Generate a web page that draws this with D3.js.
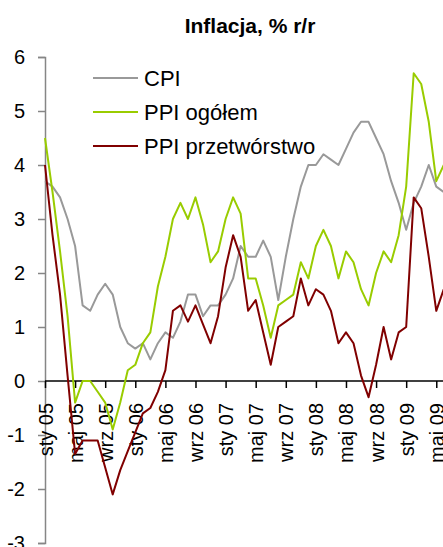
<!DOCTYPE html>
<html>
<head>
<meta charset="utf-8">
<script src="https://cdn.jsdelivr.net/npm/d3@7"></script>
<style>
  body { margin: 0; background: #fff; }
  text { font-family: Arial, "Liberation Sans", sans-serif; fill: #000; }
</style>
</head>
<body>
<svg id="chart"></svg>
<script>
// monthly data, sty 05 .. cze 09
var cpi = [
  3.7, 3.6, 3.4, 3.0, 2.5, 1.4, 1.3, 1.6, 1.8, 1.6, 1.0, 0.7,
  0.6, 0.7, 0.4, 0.7, 0.9, 0.8, 1.1, 1.6, 1.6, 1.2, 1.4, 1.4,
  1.6, 1.9, 2.5, 2.3, 2.3, 2.6, 2.3, 1.5, 2.3, 3.0, 3.6, 4.0,
  4.0, 4.2, 4.1, 4.0, 4.3, 4.6, 4.8, 4.8, 4.5, 4.2, 3.7, 3.3,
  2.8, 3.3, 3.6, 4.0, 3.6, 3.5
];
var ppiTotal = [
  4.5, 3.5, 2.4, 1.2, -0.4, 0.0, 0.0, -0.2, -0.4, -0.9, -0.4, 0.2,
  0.3, 0.7, 0.9, 1.75, 2.3, 3.0, 3.3, 3.0, 3.4, 2.9, 2.2, 2.4,
  3.0, 3.4, 3.1, 1.9, 1.9, 1.4, 0.8, 1.4, 1.5, 1.6, 2.2, 1.9,
  2.5, 2.8, 2.5, 1.9, 2.4, 2.2, 1.7, 1.4, 2.0, 2.4, 2.2, 2.7,
  3.6, 5.7, 5.5, 4.8, 3.7, 4.0
];
var ppiManuf = [
  4.0, 2.7, 1.6, 0.1, -1.35, -1.1, -1.1, -1.1, -1.6, -2.1, -1.65, -1.3,
  -0.95, -0.6, -0.5, -0.2, 0.2, 1.3, 1.4, 1.1, 1.4, 1.05, 0.7, 1.2,
  2.1, 2.7, 2.3, 1.3, 1.5, 0.9, 0.3, 1.0, 1.1, 1.2, 1.9, 1.4,
  1.7, 1.6, 1.3, 0.7, 0.9, 0.7, 0.1, -0.3, 0.3, 1.0, 0.4, 0.9,
  1.0, 3.4, 3.2, 2.3, 1.3, 1.7
];
var monthNames = ["sty", "lut", "mar", "kwi", "maj", "cze", "lip", "sie", "wrz", "paź", "lis", "gru"];
var months = d3.range(cpi.length).map(function (i) {
  return monthNames[i % 12] + " 0" + (5 + Math.floor(i / 12));
});
var yTicks = [-3, -2, -1, 0, 1, 2, 3, 4, 5, 6];
var seriesNames = ["CPI", "PPI ogółem", "PPI przetwórstwo"];
var seriesColors = ["#999999", "#99cc00", "#800000"];
var series = [cpi, ppiTotal, ppiManuf];

var width = 443, height = 547;
var svg = d3.select("#chart")
  .attr("width", width)
  .attr("height", height);

var x = d3.scaleLinear().domain([0, 53]).range([45, 443.8]);
var y = d3.scaleLinear().domain([-3, 6]).range([543, 57]);

// title
svg.append("text")
  .attr("x", 250)
  .attr("y", 33)
  .attr("text-anchor", "middle")
  .style("font-size", "21px")
  .style("font-weight", "bold")
  .text("Inflacja, % r/r");

// y axis (plain hyphen like the original)
var yAxis = svg.append("g")
  .attr("transform", "translate(45,0)")
  .call(d3.axisLeft(y).tickValues(yTicks).tickSize(7).tickPadding(13)
    .tickFormat(function (d) { return String(d); }));
yAxis.select(".domain").attr("stroke", "#868686").attr("stroke-width", 1.5);
yAxis.selectAll(".tick line").attr("stroke", "#868686").attr("stroke-width", 1.5);
yAxis.selectAll(".tick text")
  .style("font-size", "20px")
  .style("font-family", "Arial, 'Liberation Sans', sans-serif");

// x axis at zero
var tickIdx = d3.range(0, cpi.length, 4);
var xAxis = svg.append("g")
  .attr("transform", "translate(0," + y(0) + ")")
  .call(d3.axisBottom(x).tickValues(tickIdx).tickSize(7).tickSizeOuter(0)
    .tickFormat(function (i) { return months[i]; }));
xAxis.select(".domain").attr("stroke", "#000").attr("stroke-width", 1.5)
  .attr("d", "M45,0H443");
xAxis.selectAll(".tick line").attr("stroke", "#000").attr("stroke-width", 1.5);
xAxis.selectAll(".tick text")
  .style("font-size", "20px")
  .style("font-family", "Arial, 'Liberation Sans', sans-serif")
  .attr("text-anchor", "end")
  .attr("transform", "translate(0,22) rotate(-90)")
  .attr("x", 0)
  .attr("y", 0)
  .attr("dy", "0.35em");

// lines
var line = d3.line()
  .x(function (d, i) { return x(i); })
  .y(function (d) { return y(d); });

series.forEach(function (s, k) {
  svg.append("path")
    .datum(s)
    .attr("d", line)
    .style("fill", "none")
    .style("stroke", seriesColors[k])
    .style("stroke-width", 2)
    .style("stroke-linejoin", "round");
});

// legend
var legend = svg.append("g");
seriesNames.forEach(function (name, k) {
  var ly = 78 + k * 34;
  legend.append("line")
    .attr("x1", 93).attr("x2", 138)
    .attr("y1", ly).attr("y2", ly)
    .style("stroke", seriesColors[k])
    .style("stroke-width", 2);
  legend.append("text")
    .attr("x", 144)
    .attr("y", ly)
    .attr("dy", "0.36em")
    .style("font-size", "22px")
    .text(name);
});
</script>
</body>
</html>
